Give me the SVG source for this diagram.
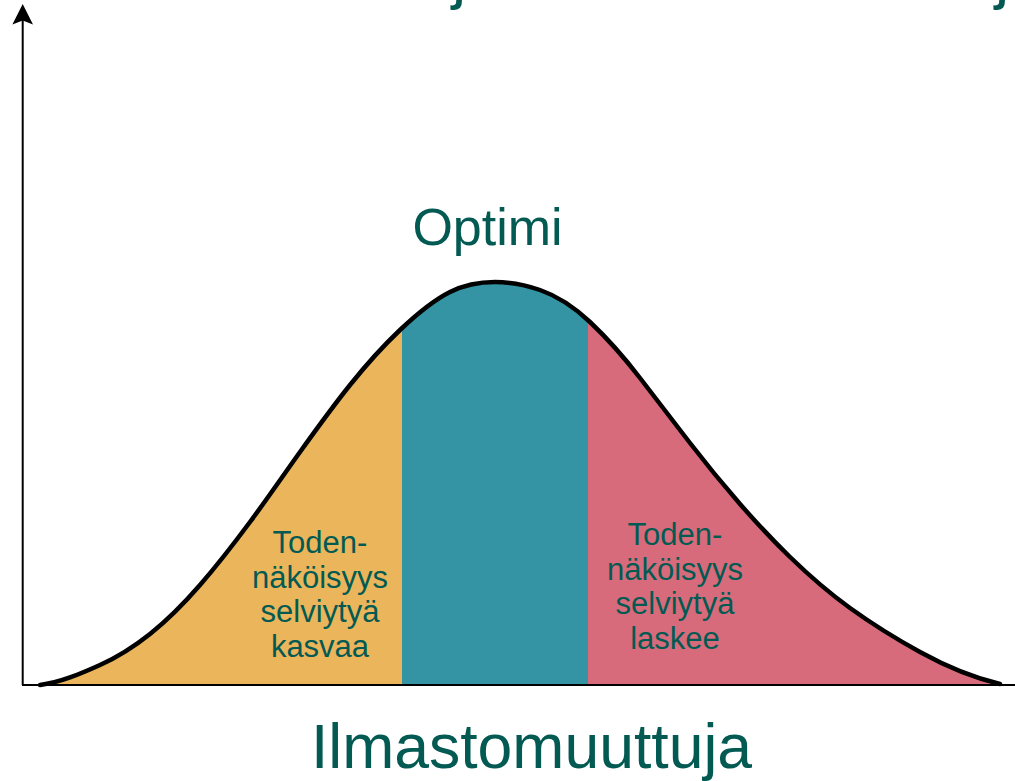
<svg xmlns="http://www.w3.org/2000/svg" width="1015" height="781" viewBox="0 0 1015 781">
  <style>
    .lbl { font-family: "Liberation Sans", Arial, sans-serif; fill: #035a52; }
    .small { font-size: 31px; text-anchor: middle; }
    .axis { stroke: #000; stroke-width: 2; fill: none; }
    .curve { stroke: #000; stroke-width: 4.5; fill: none; stroke-linejoin: round; stroke-linecap: round; }
  </style>
  <defs>
    <path id="bell" d="M40,685 C60,682.6 80,674 100,665 C116.7,657.5 133.3,647.3 150,634 C166.7,620.7 183.3,604.2 200,585 C216.7,565.8 233.3,544.5 250,522 C266.7,499.5 283.3,475.3 300,452 C316.7,428.7 333.3,405.8 350,385 C366.7,364.2 383.3,345.8 400,330 C416.7,314.2 433.3,300.3 450,292 C465,284.5 480,282 495,282 C510,282 525,284.75 540,290 C556.7,295.8 573.3,306.2 590,322 C606.7,337.8 623.3,356.3 640,378 C656.7,399.7 673.3,421.3 690,443 C706.7,464.7 723.3,484.8 740,504 C756.7,523.2 773.3,540.8 790,557 C810,576.4 830,593.6 850,608 C873.3,624.8 896.7,639.2 920,652 C946.7,666.7 973.3,677.7 1000,684"/>
    <clipPath id="under">
      <path d="M40,685 C60,682.6 80,674 100,665 C116.7,657.5 133.3,647.3 150,634 C166.7,620.7 183.3,604.2 200,585 C216.7,565.8 233.3,544.5 250,522 C266.7,499.5 283.3,475.3 300,452 C316.7,428.7 333.3,405.8 350,385 C366.7,364.2 383.3,345.8 400,330 C416.7,314.2 433.3,300.3 450,292 C465,284.5 480,282 495,282 C510,282 525,284.75 540,290 C556.7,295.8 573.3,306.2 590,322 C606.7,337.8 623.3,356.3 640,378 C656.7,399.7 673.3,421.3 690,443 C706.7,464.7 723.3,484.8 740,504 C756.7,523.2 773.3,540.8 790,557 C810,576.4 830,593.6 850,608 C873.3,624.8 896.7,639.2 920,652 C946.7,666.7 973.3,677.7 1000,684 L1000,685 Z"/>
    </clipPath>
  </defs>
  <rect width="1015" height="781" fill="#fff"/>

  <!-- cut-off title descenders -->
  <g id="title-fragments" class="lbl" font-size="64">
    <text x="452" y="-3">j</text>
    <text x="995" y="-3">j</text>
  </g>

  <g id="regions" clip-path="url(#under)">
    <rect id="region-increase" x="30" y="250" width="372" height="440" fill="#ebb55b"/>
    <rect id="region-optimum" x="402" y="250" width="186" height="440" fill="#3494a3"/>
    <rect id="region-decrease" x="588" y="250" width="420" height="440" fill="#d86b7b"/>
  </g>

  <g id="connectors">
    <line class="axis" x1="22.7" y1="685" x2="22.7" y2="18"/>
    <path d="M22.7,4 L33,24.5 L22.7,20.5 L12.4,24.5 Z" fill="#000"/>
    <line class="axis" x1="22" y1="685" x2="1015" y2="685"/>
    <use href="#bell" class="curve"/>
  </g>

  <g id="optimi" class="lbl">
    <text x="487.5" y="245" font-size="52" text-anchor="middle">Optimi</text>
  </g>

  <g id="label-left" class="lbl small">
    <text x="320" y="553">Toden-</text>
    <text x="320" y="587.5">näköisyys</text>
    <text x="320" y="622">selviytyä</text>
    <text x="320" y="656.5">kasvaa</text>
  </g>

  <g id="label-right" class="lbl small">
    <text x="675" y="545">Toden-</text>
    <text x="675" y="579.5">näköisyys</text>
    <text x="675" y="614">selviytyä</text>
    <text x="675" y="648.5">laskee</text>
  </g>

  <g id="x-label" class="lbl">
    <text x="531.5" y="768" font-size="62.5" text-anchor="middle">Ilmastomuuttuja</text>
  </g>
</svg>
